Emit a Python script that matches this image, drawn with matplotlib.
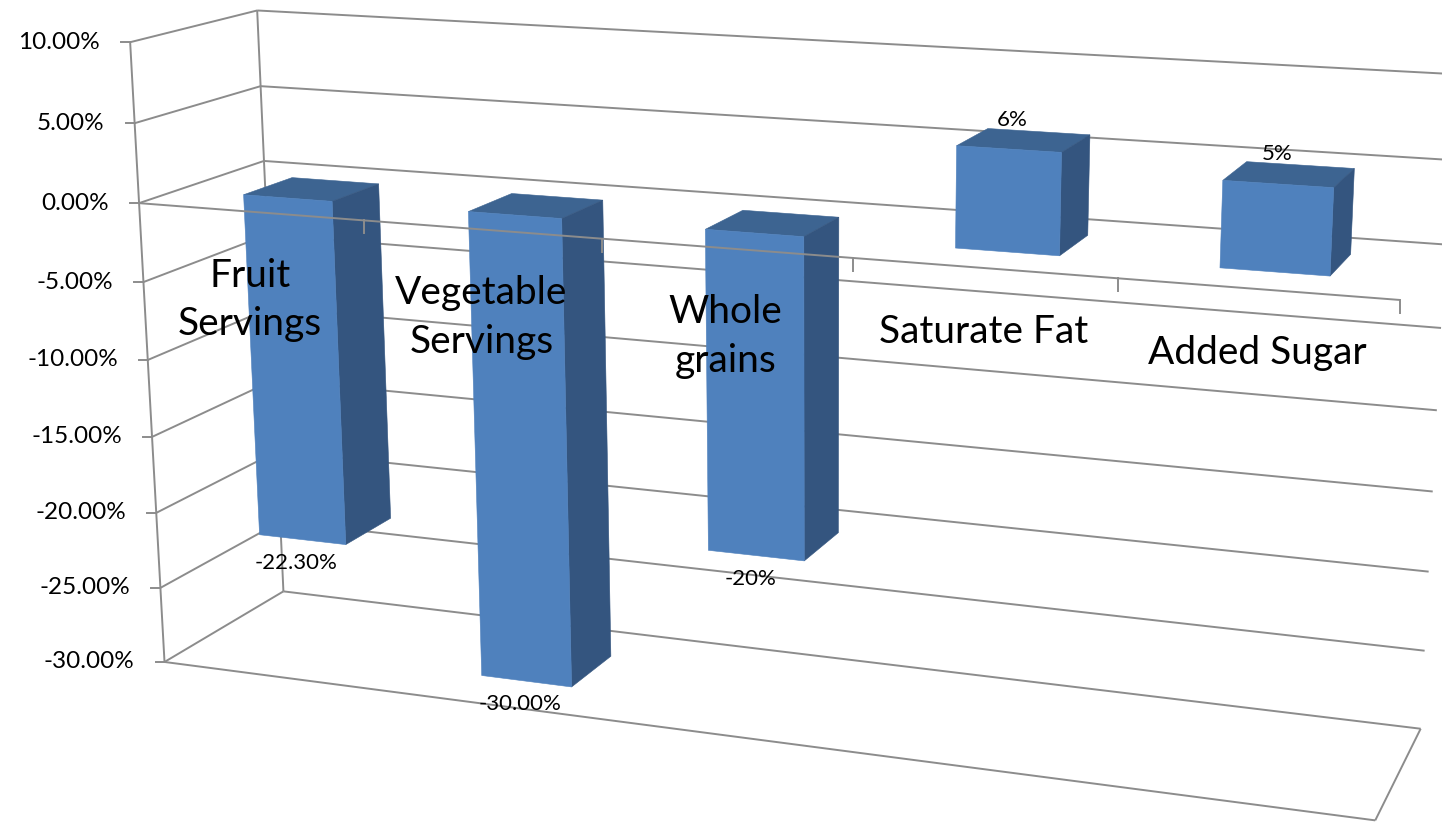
import numpy as np
import matplotlib
matplotlib.use("Agg")
import matplotlib.pyplot as plt
from matplotlib.patches import Polygon

categories = ["Fruit\nServings", "Vegetable\nServings", "Whole\ngrains", "Saturate Fat", "Added Sugar"]
values = [-22.3, -30.0, -20.0, 6.0, 5.0]
label_decimals = [2, 2, 0, 0, 0]
value_ticks = [10, 5, 0, -5, -10, -15, -20, -25, -30]

# Perspective camera: (category position, depth 0..1, value in %) -> canvas pixels
CAMERA = np.array([
    [215.72997529011374, 144.00273963418803, -1.0603663681001556, 139.07019609024238],
    [11.557471529936569, -30.55786468085034, -16.148437807150362, 203.13769721662317],
    [-0.02602714596565688, 0.07232851341708188, -0.0012905808545937408, 1.0],
])


def proj(pts):
    pts = np.atleast_2d(np.asarray(pts, float))
    h = np.c_[pts, np.ones(len(pts))] @ CAMERA.T
    return h[:, :2] / h[:, 2:3]


ZMIN, ZMAX = min(value_ticks), max(value_ticks)
NCAT = len(categories)
BAR_W = 0.4          # share of a category slot
Y0, Y1 = 0.3, 0.7    # bar depth range

GRID = "#8C8C8C"
FRONT = "#4F81BD"
SIDE = "#34557F"
TOP = "#3D6491"

plt.rcParams["font.family"] = ["Lato", "DejaVu Sans"]

fig = plt.figure(figsize=(14.42, 8.22), dpi=100)
ax = fig.add_axes([0, 0, 1, 1])
ax.set_xlim(0, 1442)
ax.set_ylim(822, 0)
ax.axis("off")


def seg(p, q, **kw):
    a = proj([p, q])
    ax.plot(a[:, 0], a[:, 1], color=GRID, lw=1.4, solid_capstyle="butt", **kw)


# side wall, back wall and floor outline
for z in value_ticks:
    seg((0, 0, z), (0, 1, z), zorder=1)
    seg((0, 1, z), (NCAT, 1, z), zorder=1)
seg((0, 1, ZMIN), (0, 1, ZMAX), zorder=1)
seg((0, 0, ZMIN), (0, 0, ZMAX), zorder=1)
seg((0, 0, ZMIN), (NCAT, 0, ZMIN), zorder=1)
seg((NCAT, 0, ZMIN), (NCAT, 1, ZMIN), zorder=1)

# value axis ticks and labels
for z in value_ticks:
    x, y = proj((0, 0, z))[0]
    ax.plot([x - 9, x], [y, y], color=GRID, lw=1.4, zorder=1)
    ax.text(x - 30, y, f"{z:.2f}%", ha="right", va="center", fontsize=17.5,
            color="black")

# 3D columns: top, right side, front
for i, v in enumerate(values):
    x0 = i + 0.5 - BAR_W / 2
    x1 = i + 0.5 + BAR_W / 2
    lo, hi = min(0, v), max(0, v)
    faces = [
        ([(x0, Y0, hi), (x1, Y0, hi), (x1, Y1, hi), (x0, Y1, hi)], TOP),
        ([(x1, Y0, lo), (x1, Y1, lo), (x1, Y1, hi), (x1, Y0, hi)], SIDE),
        ([(x0, Y0, lo), (x1, Y0, lo), (x1, Y0, hi), (x0, Y0, hi)], FRONT),
    ]
    for pts, c in faces:
        ax.add_patch(Polygon(proj(pts), closed=True, facecolor=c, edgecolor=c,
                             lw=0.4, zorder=3))
    txt = f"{v:.{label_decimals[i]}f}%"
    if v < 0:
        x, y = proj((i + 0.5, Y0, v))[0]
        ax.text(x - 6, y + 23, txt, ha="center", va="center", fontsize=16, zorder=5)
    else:
        x, y = proj((i + 0.5, 0.5, v))[0]
        ax.text(x - 12, y - 20, txt, ha="center", va="center", fontsize=16, zorder=5)

# category axis drawn across the front of the columns
seg((0, 0, 0), (NCAT, 0, 0), zorder=4)
for k in range(1, NCAT + 1):
    x, y = proj((k, 0, 0))[0]
    ax.plot([x, x], [y, y + 13], color=GRID, lw=1.4, zorder=4)

for i, name in enumerate(categories):
    x, y = proj((i + 0.5, 0, 0))[0]
    ax.text(x, y + 46, name, ha="center", va="top", fontsize=28,
            linespacing=1.43, zorder=5)

fig.savefig("out.png", dpi=100)
